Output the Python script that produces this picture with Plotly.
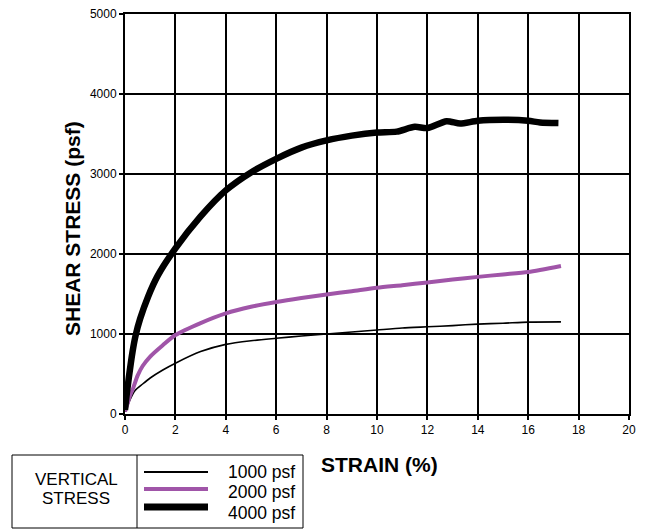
import plotly.graph_objects as go

strain_1000 = [0, 0.07, 0.2, 0.4, 0.7, 1.0, 1.5, 2.0, 3.0, 4.0, 5.0, 6.0, 7.0, 8.0, 9.0, 10.0, 11.0, 12.0, 13.0, 14.0, 15.0, 16.0, 17.3]
stress_1000 = [30, 75, 180, 295, 375, 450, 550, 635, 780, 870, 915, 946, 975, 1000, 1025, 1050, 1075, 1090, 1105, 1124, 1135, 1149, 1152]

strain_2000 = [0, 0.1, 0.2, 0.33, 0.5, 0.7, 1.0, 1.5, 2.0, 3.0, 4.0, 5.0, 6.0, 7.0, 8.0, 9.0, 10.0, 11.0, 12.0, 13.0, 14.0, 15.0, 16.0, 17.3]
stress_2000 = [30, 130, 230, 330, 480, 600, 718, 860, 987, 1137, 1258, 1340, 1400, 1450, 1494, 1535, 1577, 1610, 1644, 1680, 1714, 1745, 1776, 1851]

strain_4000 = [0, 0.05, 0.15, 0.3, 0.42, 0.6, 0.92, 1.3, 2.0, 3.0, 4.0, 5.0, 6.0, 7.0, 8.0, 9.0, 10.0, 10.78, 11.5, 12.0, 12.76, 13.3, 14.0, 15.15, 16.0, 16.47, 17.2]
stress_4000 = [50, 200, 450, 780, 980, 1190, 1470, 1730, 2070, 2470, 2795, 3020, 3190, 3330, 3420, 3480, 3519, 3530, 3590, 3574, 3660, 3630, 3665, 3677, 3665, 3644, 3636]

legend_labels = ["1000 psf", "2000 psf", "4000 psf"]
legend_title = ["VERTICAL", "STRESS"]

W, H = 646, 529
L, R, T, B = 125, 17, 14, 115
pw, ph = W - L - R, H - T - B
FONT = "Liberation Sans, Arial"

def px(x):
    return (x - L) / pw

def py(y):
    return (H - B - y) / ph

fig = go.Figure()
fig.add_trace(go.Scatter(x=strain_1000, y=stress_1000, mode="lines",
                         line=dict(color="black", width=1.6, shape="spline", smoothing=0.7),
                         showlegend=False))
fig.add_trace(go.Scatter(x=strain_2000, y=stress_2000, mode="lines",
                         line=dict(color="#A055A8", width=4, shape="spline", smoothing=0.7),
                         showlegend=False))
fig.add_trace(go.Scatter(x=strain_4000, y=stress_4000, mode="lines",
                         line=dict(color="black", width=6.5, shape="spline", smoothing=0.7),
                         showlegend=False))

shapes = []
shapes.append(dict(type="rect", xref="paper", yref="paper",
                   x0=px(12), x1=px(303), y0=py(528), y1=py(455),
                   line=dict(color="black", width=1)))
shapes.append(dict(type="line", xref="paper", yref="paper",
                   x0=px(137), x1=px(137), y0=py(528), y1=py(455),
                   line=dict(color="black", width=1)))
line_rows = [472, 489, 507]
text_rows = [472, 492, 513]
styles = [("black", 2), ("#A055A8", 4), ("black", 7)]
annotations = []
for ly, ty, (c, w), lab in zip(line_rows, text_rows, styles, legend_labels):
    shapes.append(dict(type="line", xref="paper", yref="paper",
                       x0=px(144), x1=px(208), y0=py(ly), y1=py(ly),
                       line=dict(color=c, width=w)))
    annotations.append(dict(xref="paper", yref="paper", x=px(297), y=py(ty),
                            text=lab, showarrow=False, xanchor="right", yanchor="middle",
                            font=dict(family=FONT, size=17.5, color="black")))
for ty, lab in zip([479, 499], legend_title):
    annotations.append(dict(xref="paper", yref="paper", x=px(76), y=py(ty),
                            text=lab, showarrow=False, xanchor="center", yanchor="middle",
                            font=dict(family=FONT, size=17, color="black")))
# axis titles
annotations.append(dict(xref="paper", yref="paper", x=px(379), y=py(464),
                        text="<b>STRAIN (%)</b>", showarrow=False, xanchor="center",
                        yanchor="middle", font=dict(family=FONT, size=21, color="black")))
annotations.append(dict(xref="paper", yref="paper", x=px(72), y=py(229),
                        text="<b>SHEAR STRESS (psf)</b>", showarrow=False, textangle=-90,
                        xanchor="center", yanchor="middle",
                        font=dict(family=FONT, size=21, color="black")))

axis_common = dict(showgrid=True, gridcolor="black", gridwidth=2, showline=True,
                   linecolor="black", linewidth=2, mirror=True, ticks="outside",
                   ticklen=4, tickwidth=1.5, tickcolor="black", zeroline=False,
                   tickfont=dict(family=FONT, size=12, color="black"))

fig.update_layout(
    width=W, height=H,
    margin=dict(l=L, r=R, t=T, b=B, autoexpand=False),
    plot_bgcolor="white", paper_bgcolor="white",
    font=dict(family=FONT, size=12, color="black"),
    shapes=shapes, annotations=annotations,
    xaxis=dict(range=[0, 20], tickvals=list(range(0, 21, 2)), **axis_common),
    yaxis=dict(range=[0, 5000], tickvals=list(range(0, 5001, 1000)), **axis_common),
)

fig.write_html("out.html")
